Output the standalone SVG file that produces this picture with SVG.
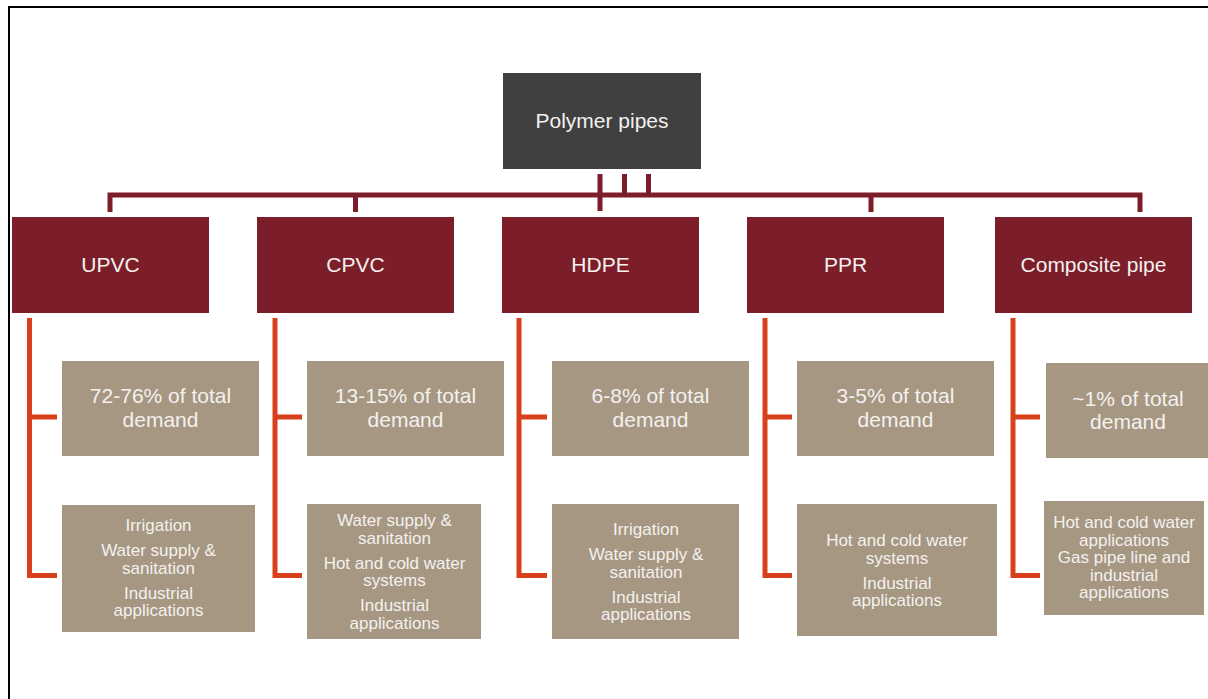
<svg xmlns="http://www.w3.org/2000/svg" width="1208" height="699" viewBox="0 0 1208 699">
<style>
.root{fill:#404040}
.cat{fill:#7b1e2a}
.info{fill:#a69783}
.t{font-family:"Liberation Sans",Arial,sans-serif;fill:#f4f1ee;text-anchor:middle}
.big{font-size:21px}
.small{font-size:17px}
.main{fill:none;stroke:#7b1e2a;stroke-width:5}
.sub{fill:none;stroke:#d8401c;stroke-width:5}
.frame{fill:none;stroke:#000;stroke-width:2}
</style>
<rect width="1208" height="699" fill="#fff"/>
<path class="frame" d="M9,699 V7 H1208"/>
<g id="connectors">
<path class="main" d="M110,212 V195 H1140 V212"/>
<path class="main" d="M355.5,195 V212 M871,195 V212 M600,174 V211 M624.5,174 V195 M648.5,174 V195"/>
<path class="sub" d="M29.5,318 V575.5 H57 M29.5,417 H57"/>
<path class="sub" d="M275,318 V575.5 H302 M275,417 H302"/>
<path class="sub" d="M519,318 V575.5 H547 M519,417 H547"/>
<path class="sub" d="M765,318 V575.5 H792 M765,417 H792"/>
<path class="sub" d="M1013,318 V575.5 H1040 M1013,417 H1040"/>
</g>
<g id="root">
<rect class="root" x="503" y="73" width="198" height="96"/>
<text class="t big" x="602" y="128">Polymer pipes</text>
</g>
<g id="upvc">
<rect class="cat" x="12" y="217" width="197" height="96"/>
<text class="t big" x="110.5" y="272">UPVC</text>
</g>
<g id="cpvc">
<rect class="cat" x="257" y="217" width="197" height="96"/>
<text class="t big" x="355.5" y="272">CPVC</text>
</g>
<g id="hdpe">
<rect class="cat" x="502" y="217" width="197" height="96"/>
<text class="t big" x="600.5" y="272">HDPE</text>
</g>
<g id="ppr">
<rect class="cat" x="747" y="217" width="197" height="96"/>
<text class="t big" x="845.5" y="272">PPR</text>
</g>
<g id="composite">
<rect class="cat" x="995" y="217" width="197" height="96"/>
<text class="t big" x="1093.5" y="272">Composite pipe</text>
</g>
<g id="upvc-demand">
<rect class="info" x="62" y="361" width="197" height="95"/>
<text class="t big" x="160.5" y="403">72-76% of total</text>
<text class="t big" x="160.5" y="426.5">demand</text>
</g>
<g id="cpvc-demand">
<rect class="info" x="307" y="361" width="197" height="95"/>
<text class="t big" x="405.5" y="403">13-15% of total</text>
<text class="t big" x="405.5" y="426.5">demand</text>
</g>
<g id="hdpe-demand">
<rect class="info" x="552" y="361" width="197" height="95"/>
<text class="t big" x="650.5" y="403">6-8% of total</text>
<text class="t big" x="650.5" y="426.5">demand</text>
</g>
<g id="ppr-demand">
<rect class="info" x="797" y="361" width="197" height="95"/>
<text class="t big" x="895.5" y="403">3-5% of total</text>
<text class="t big" x="895.5" y="426.5">demand</text>
</g>
<g id="composite-demand">
<rect class="info" x="1046" y="363" width="164" height="95"/>
<text class="t big" x="1128" y="406">~1% of total</text>
<text class="t big" x="1128" y="429">demand</text>
</g>
<g id="upvc-apps">
<rect class="info" x="62" y="505" width="193" height="127"/>
<text class="t small" x="158.5" y="531">Irrigation</text>
<text class="t small" x="158.5" y="556">Water supply &amp;</text>
<text class="t small" x="158.5" y="573.5">sanitation</text>
<text class="t small" x="158.5" y="598.5">Industrial</text>
<text class="t small" x="158.5" y="616">applications</text>
</g>
<g id="cpvc-apps">
<rect class="info" x="307" y="504" width="174" height="135"/>
<text class="t small" x="394.5" y="526">Water supply &amp;</text>
<text class="t small" x="394.5" y="543.5">sanitation</text>
<text class="t small" x="394.5" y="568.5">Hot and cold water</text>
<text class="t small" x="394.5" y="586">systems</text>
<text class="t small" x="394.5" y="611">Industrial</text>
<text class="t small" x="394.5" y="628.5">applications</text>
</g>
<g id="hdpe-apps">
<rect class="info" x="552" y="504" width="187" height="135"/>
<text class="t small" x="646" y="535">Irrigation</text>
<text class="t small" x="646" y="560">Water supply &amp;</text>
<text class="t small" x="646" y="577.5">sanitation</text>
<text class="t small" x="646" y="602.5">Industrial</text>
<text class="t small" x="646" y="620">applications</text>
</g>
<g id="ppr-apps">
<rect class="info" x="797" y="504" width="200" height="132"/>
<text class="t small" x="897" y="546">Hot and cold water</text>
<text class="t small" x="897" y="563.5">systems</text>
<text class="t small" x="897" y="588.5">Industrial</text>
<text class="t small" x="897" y="606">applications</text>
</g>
<g id="composite-apps">
<rect class="info" x="1044" y="501" width="160" height="114"/>
<text class="t small" x="1124" y="528">Hot and cold water</text>
<text class="t small" x="1124" y="545.5">applications</text>
<text class="t small" x="1124" y="563">Gas pipe line and</text>
<text class="t small" x="1124" y="580.5">industrial</text>
<text class="t small" x="1124" y="598">applications</text>
</g>
</svg>
